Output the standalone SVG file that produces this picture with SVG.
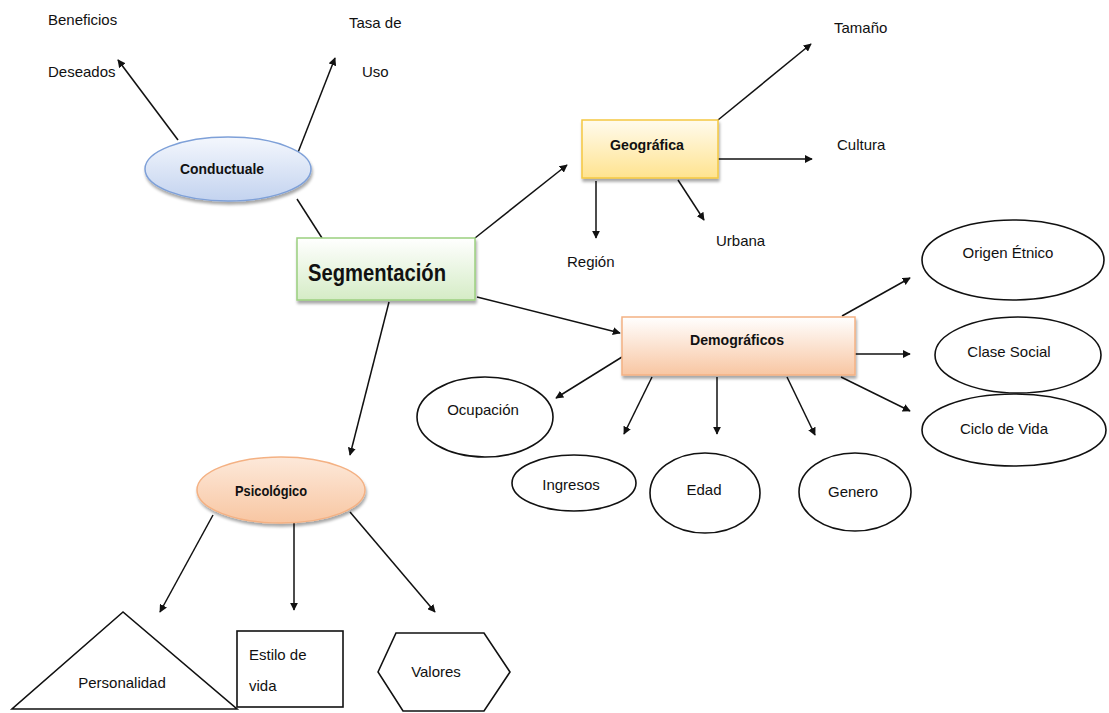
<svg xmlns="http://www.w3.org/2000/svg" width="1109" height="713" viewBox="0 0 1109 713">
  <defs>
    <style>
      text { font-family: "Liberation Sans", Arial, sans-serif; fill: #111; }
      .lbl { font-size: 15px; }
      .hd { font-size: 15px; font-weight: bold; }
      .edge { stroke: #111; stroke-width: 1.5; fill: none; }
      .arr { marker-end: url(#ah); }
      .plain { fill: #fff; stroke: #111; stroke-width: 1.6; }
    </style>
    <marker id="ah" viewBox="0 0 10 10" refX="9" refY="5" markerWidth="8" markerHeight="8" orient="auto" markerUnits="userSpaceOnUse">
      <path d="M0,0 L10,5 L0,10 z" fill="#111"/>
    </marker>
    <linearGradient id="gBlue" x1="0" y1="0" x2="0" y2="1">
      <stop offset="0" stop-color="#f4f7fd"/>
      <stop offset="1" stop-color="#c3d3ef"/>
    </linearGradient>
    <linearGradient id="gGreen" x1="0" y1="0" x2="0" y2="1">
      <stop offset="0" stop-color="#ffffff"/>
      <stop offset="1" stop-color="#d5ecc6"/>
    </linearGradient>
    <linearGradient id="gYellow" x1="0" y1="0" x2="0" y2="1">
      <stop offset="0" stop-color="#fffbee"/>
      <stop offset="1" stop-color="#ffe38f"/>
    </linearGradient>
    <linearGradient id="gOrange" x1="0" y1="0" x2="0" y2="1">
      <stop offset="0" stop-color="#ffffff"/>
      <stop offset="1" stop-color="#f8c6a2"/>
    </linearGradient>
    <linearGradient id="gPeach" x1="0" y1="0" x2="0" y2="1">
      <stop offset="0" stop-color="#fde9da"/>
      <stop offset="1" stop-color="#f8c6a2"/>
    </linearGradient>
    <filter id="sh" x="-10%" y="-10%" width="130%" height="140%">
      <feGaussianBlur in="SourceAlpha" stdDeviation="1.5"/>
      <feOffset dx="1" dy="3" result="o"/>
      <feComponentTransfer><feFuncA type="linear" slope="0.35"/></feComponentTransfer>
      <feMerge><feMergeNode/><feMergeNode in="SourceGraphic"/></feMerge>
    </filter>
  </defs>

  <rect width="1109" height="713" fill="#fff"/>

  <!-- connectors -->
  <g id="connectors">
    <line class="edge arr" x1="178" y1="140" x2="118" y2="60"/>
    <line class="edge arr" x1="297" y1="155" x2="335" y2="58"/>
    <line class="edge" x1="322" y1="238" x2="297" y2="199"/>
    <line class="edge arr" x1="475" y1="238" x2="567" y2="165"/>
    <line class="edge arr" x1="477" y1="297" x2="620" y2="333"/>
    <line class="edge arr" x1="389" y1="302" x2="350" y2="455"/>
    <line class="edge arr" x1="718" y1="120" x2="811" y2="44"/>
    <line class="edge arr" x1="718" y1="159" x2="812" y2="159"/>
    <line class="edge arr" x1="596" y1="181" x2="596" y2="238"/>
    <line class="edge arr" x1="678" y1="180" x2="704" y2="220"/>
    <line class="edge arr" x1="842" y1="316" x2="910" y2="278"/>
    <line class="edge arr" x1="855" y1="354" x2="910" y2="354"/>
    <line class="edge arr" x1="841" y1="377" x2="910" y2="411"/>
    <line class="edge arr" x1="622" y1="357" x2="556" y2="398"/>
    <line class="edge arr" x1="652" y1="377" x2="624" y2="434"/>
    <line class="edge arr" x1="717" y1="377" x2="717" y2="434"/>
    <line class="edge arr" x1="787" y1="377" x2="815" y2="435"/>
    <line class="edge arr" x1="213" y1="515" x2="160" y2="612"/>
    <line class="edge arr" x1="294" y1="512" x2="294" y2="610"/>
    <line class="edge arr" x1="350" y1="512" x2="435" y2="612"/>
  </g>

  <!-- free labels -->
  <g id="conductual-labels">
    <text class="lbl" x="48" y="25">Beneficios</text>
    <text class="lbl" x="48" y="77">Deseados</text>
    <text class="lbl" x="349" y="28">Tasa de</text>
    <text class="lbl" x="362" y="77">Uso</text>
  </g>
  <g id="geo-labels">
    <text class="lbl" x="834" y="33">Tamaño</text>
    <text class="lbl" x="837" y="150">Cultura</text>
    <text class="lbl" x="567" y="267">Región</text>
    <text class="lbl" x="716" y="246">Urbana</text>
  </g>

  <!-- main nodes -->
  <g id="conductuale">
    <ellipse cx="228" cy="169" rx="83" ry="32" fill="url(#gBlue)" stroke="#7ea0d8" stroke-width="1.5" filter="url(#sh)"/>
    <text class="hd" x="222" y="174" text-anchor="middle" textLength="84" lengthAdjust="spacingAndGlyphs">Conductuale</text>
  </g>
  <g id="segmentacion">
    <rect x="297" y="238" width="178" height="62" fill="url(#gGreen)" stroke="#9bcf7f" stroke-width="1.5" filter="url(#sh)"/>
    <text x="377" y="281" text-anchor="middle" textLength="138" lengthAdjust="spacingAndGlyphs" style="font-size:23px;font-weight:bold">Segmentación</text>
  </g>
  <g id="geografica">
    <rect x="582" y="120" width="136" height="58" fill="url(#gYellow)" stroke="#f5c842" stroke-width="1.5" filter="url(#sh)"/>
    <text class="hd" x="647" y="150" text-anchor="middle" textLength="74" lengthAdjust="spacingAndGlyphs">Geográfica</text>
  </g>
  <g id="demograficos">
    <rect x="622" y="317" width="233" height="58" fill="url(#gOrange)" stroke="#f4b183" stroke-width="1.5" filter="url(#sh)"/>
    <text class="hd" x="737" y="345" text-anchor="middle" textLength="94" lengthAdjust="spacingAndGlyphs">Demográficos</text>
  </g>
  <g id="psicologico">
    <ellipse cx="281" cy="490" rx="84" ry="33" fill="url(#gPeach)" stroke="#f4b183" stroke-width="1.5" filter="url(#sh)"/>
    <text class="hd" x="271" y="496" text-anchor="middle" textLength="72" lengthAdjust="spacingAndGlyphs">Psicológico</text>
  </g>

  <!-- demographic variables -->
  <g id="ocupacion">
    <ellipse class="plain" cx="485" cy="417" rx="68" ry="40"/>
    <text class="lbl" x="483" y="415" text-anchor="middle">Ocupación</text>
  </g>
  <g id="ingresos">
    <ellipse class="plain" cx="574" cy="483" rx="62" ry="28"/>
    <text class="lbl" x="571" y="490" text-anchor="middle">Ingresos</text>
  </g>
  <g id="edad">
    <ellipse class="plain" cx="705" cy="493" rx="55" ry="40"/>
    <text class="lbl" x="704" y="495" text-anchor="middle">Edad</text>
  </g>
  <g id="genero">
    <ellipse class="plain" cx="855" cy="492" rx="56" ry="39"/>
    <text class="lbl" x="853" y="497" text-anchor="middle">Genero</text>
  </g>
  <g id="origen-etnico">
    <ellipse class="plain" cx="1013" cy="260" rx="91" ry="40"/>
    <text class="lbl" x="1008" y="258" text-anchor="middle">Origen Étnico</text>
  </g>
  <g id="clase-social">
    <ellipse class="plain" cx="1018" cy="355" rx="83" ry="38"/>
    <text class="lbl" x="1009" y="357" text-anchor="middle">Clase Social</text>
  </g>
  <g id="ciclo-de-vida">
    <ellipse class="plain" cx="1014" cy="430" rx="92" ry="36"/>
    <text class="lbl" x="1004" y="434" text-anchor="middle">Ciclo de Vida</text>
  </g>

  <!-- psychographic variables -->
  <g id="personalidad">
    <polygon class="plain" points="123,612 12,709 237,709"/>
    <text class="lbl" x="122" y="688" text-anchor="middle">Personalidad</text>
  </g>
  <g id="estilo-de-vida">
    <rect class="plain" x="237" y="631" width="106" height="76"/>
    <text class="lbl" x="249" y="660">Estilo de</text>
    <text class="lbl" x="249" y="691">vida</text>
  </g>
  <g id="valores">
    <polygon class="plain" points="378,672 396,633 484,633 510,672 484,711 403,711"/>
    <text class="lbl" x="436" y="677" text-anchor="middle">Valores</text>
  </g>
</svg>
